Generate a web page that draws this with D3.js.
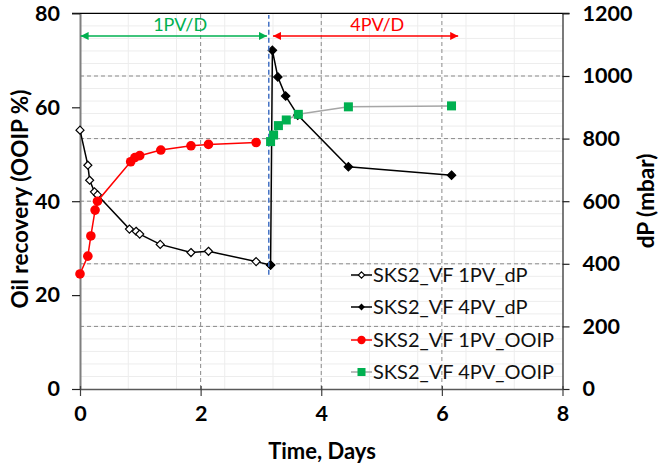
<!DOCTYPE html>
<html><head><meta charset="utf-8">
<script src="https://cdn.jsdelivr.net/npm/d3@7"></script>
<style>
body{margin:0;background:#fff}
svg{display:block}
text{font-family:Lato,"Open Sans",sans-serif}
</style>
</head><body>
<svg id="chart" width="658" height="465"></svg>
<script>
// ---------- DATA ----------
const xTicks = [0, 2, 4, 6, 8];
const yLeftTicks = [0, 20, 40, 60, 80];
const yRightTicks = [0, 200, 400, 600, 800, 1000, 1200];

const dp1PV_time = [0, 0.13, 0.16, 0.24, 0.29, 0.82, 0.93, 0.99, 1.33, 1.84, 2.13, 2.92, 3.16];
const dp1PV_val  = [827, 715, 667, 630, 620, 511, 504, 495, 462, 436, 440, 407, 396];

const dp4PV_time = [3.16, 3.19, 3.28, 3.41, 3.61, 4.45, 6.16];
const dp4PV_val  = [396, 1082, 997, 936, 875, 710, 683];

const ooip1PV_time = [0, 0.13, 0.18, 0.25, 0.29, 0.84, 0.91, 0.99, 1.34, 1.84, 2.13, 2.92];
const ooip1PV_val  = [24.5, 28.3, 32.6, 38.1, 40.0, 48.4, 49.3, 49.7, 50.9, 51.8, 52.1, 52.5];

const ooip4PV_time = [3.16, 3.21, 3.29, 3.42, 3.62, 4.45, 6.16];
const ooip4PV_val  = [52.7, 54.1, 56.1, 57.3, 58.5, 60.1, 60.3];

const seriesNames = ["SKS2_VF 1PV_dP", "SKS2_VF 4PV_dP", "SKS2_VF 1PV_OOIP", "SKS2_VF 4PV_OOIP"];

// annotations (x in days, y in mbar on right axis)
const phaseBoundary = 3.13;
const phaseBoundaryRange = [365, 1195];
const phaseLabels = ["1PV/D", "4PV/D"];
const phaseArrowStart = [0.01, 3.20];
const phaseArrowEnd = [3.10, 6.27];
const phaseLabelX = [1.66, 4.93];
const phaseArrowY = 1128;
const phaseLabelY = 1163;

// ---------- CHART ----------
const svg = d3.select("#chart");
const x = d3.scaleLinear().domain([0, 8]).range([80, 562.5]);
const yL = d3.scaleLinear().domain([0, 80]).range([389, 13.4]);
const yR = d3.scaleLinear().domain([0, 1200]).range([389, 13.4]);

const GREEN = "#00B050", RED = "#FF0000", GRAY = "#A6A6A6";

// minor gridlines
const g = svg.append("g");
g.selectAll("line.mh").data(d3.range(40, 1200, 40)).join("line")
  .attr("x1", x(0)).attr("x2", x(8)).attr("y1", d => yR(d)).attr("y2", d => yR(d))
  .attr("stroke", "#ededed").attr("stroke-width", 1);
g.selectAll("line.mv").data(d3.range(1, 10).map(i => i * 0.8)).join("line")
  .attr("y1", yR(0)).attr("y2", yR(1200)).attr("x1", d => x(d)).attr("x2", d => x(d))
  .attr("stroke", "#ededed").attr("stroke-width", 1);
// major dashed gridlines
g.selectAll("line.Mh").data([200, 400, 600, 800, 1000]).join("line")
  .attr("x1", x(0)).attr("x2", x(8)).attr("y1", d => yR(d)).attr("y2", d => yR(d))
  .attr("stroke", "#8a8a8a").attr("stroke-width", 1).attr("stroke-dasharray", "4,3");
g.append("g").selectAll("line").data([2, 4, 6]).join("line")
  .attr("y1", yR(0)).attr("y2", yR(1200)).attr("x1", d => x(d)).attr("x2", d => x(d))
  .attr("stroke", "#8a8a8a").attr("stroke-width", 1).attr("stroke-dasharray", "4,3");

// top line
svg.append("line").attr("x1", x(0) - 8).attr("x2", x(8) + 7)
  .attr("y1", yR(1200)).attr("y2", yR(1200)).attr("stroke", "#000").attr("stroke-width", 1.2);

// axes
const axL = svg.append("g").attr("transform", `translate(${x(0)},0)`)
  .call(d3.axisLeft(yL).tickValues(yLeftTicks).tickFormat(d3.format("d")).tickSize(8).tickPadding(12).tickSizeOuter(0));
axL.select(".domain").attr("stroke", "#7f7f7f").attr("stroke-width", 2);
axL.selectAll(".tick line").attr("stroke", "#222").attr("stroke-width", 1.2);

const axR = svg.append("g").attr("transform", `translate(${x(8)},0)`)
  .call(d3.axisRight(yR).tickValues(yRightTicks).tickFormat(d3.format("d")).tickSize(7).tickPadding(13).tickSizeOuter(0));
axR.select(".domain").attr("stroke", "#222").attr("stroke-width", 1.2);
axR.selectAll(".tick line").attr("stroke", "#222").attr("stroke-width", 1.2);

const axB = svg.append("g").attr("transform", `translate(0,${yL(0)})`)
  .call(d3.axisBottom(x).tickValues(xTicks).tickFormat(d3.format("d")).tickSizeOuter(0));
axB.select(".domain").attr("stroke", "#595959").attr("stroke-width", 1.5);
axB.selectAll(".tick line").attr("y1", -3).attr("y2", 7).attr("stroke", "#404040").attr("stroke-width", 1.2);
axB.selectAll(".tick text").attr("y", 31.5).attr("dy", 0);

[axL, axR, axB].forEach(a => a.selectAll(".tick text")
  .attr("font-family", "Lato, 'Open Sans', sans-serif")
  .attr("font-size", 21.5).attr("font-weight", "bold").attr("fill", "#000"));

// axis titles
svg.append("text").attr("transform", "translate(28,199) rotate(-90)")
  .attr("text-anchor", "middle").attr("font-size", 22.5).attr("font-weight", "bold")
  .text("Oil recovery (OOIP %)");
svg.append("text").attr("transform", "translate(654,201) rotate(-90)")
  .attr("text-anchor", "middle").attr("font-size", 22.5).attr("font-weight", "bold")
  .text("dP (mbar)");
svg.append("text").attr("x", 322).attr("y", 459)
  .attr("text-anchor", "middle").attr("font-size", 22).attr("font-weight", "bold")
  .text("Time, Days");

// phase annotations
const defs = svg.append("defs");
[["g", GREEN], ["r", RED]].forEach(([id, col]) => {
  defs.append("marker").attr("id", "ae" + id).attr("viewBox", "0 0 10 10")
    .attr("refX", 10).attr("refY", 5).attr("markerWidth", 9).attr("markerHeight", 8)
    .attr("markerUnits", "userSpaceOnUse").attr("orient", "auto")
    .append("path").attr("d", "M0,0 L10,5 L0,10 Z").attr("fill", col);
  defs.append("marker").attr("id", "as" + id).attr("viewBox", "0 0 10 10")
    .attr("refX", 0).attr("refY", 5).attr("markerWidth", 9).attr("markerHeight", 8)
    .attr("markerUnits", "userSpaceOnUse").attr("orient", "auto")
    .append("path").attr("d", "M10,0 L0,5 L10,10 Z").attr("fill", col);
});
const phaseCols = [GREEN, RED], phaseIds = ["g", "r"];
phaseLabels.forEach((lab, i) => {
  svg.append("line").attr("x1", x(phaseArrowStart[i])).attr("x2", x(phaseArrowEnd[i]))
    .attr("y1", yR(phaseArrowY)).attr("y2", yR(phaseArrowY))
    .attr("stroke", phaseCols[i]).attr("stroke-width", 1.5)
    .attr("marker-start", `url(#as${phaseIds[i]})`).attr("marker-end", `url(#ae${phaseIds[i]})`);
  svg.append("text").attr("x", x(phaseLabelX[i])).attr("y", yR(phaseLabelY)).attr("dy", "0.35em")
    .attr("text-anchor", "middle").attr("font-size", 18).attr("fill", phaseCols[i]).text(lab);
});

// series
const zip = (t, v) => t.map((d, i) => [d, v[i]]);
const s1 = zip(dp1PV_time, dp1PV_val), s2 = zip(dp4PV_time, dp4PV_val);
const s3 = zip(ooip1PV_time, ooip1PV_val), s4 = zip(ooip4PV_time, ooip4PV_val);
const lineR = d3.line().x(d => x(d[0])).y(d => yR(d[1]));
const lineL = d3.line().x(d => x(d[0])).y(d => yL(d[1]));

const diamond = (cx, cy, r) => `M${cx},${cy - r}L${cx + r},${cy}L${cx},${cy + r}L${cx - r},${cy}Z`;

function drawDiamonds(sel, pts, fill, r) {
  sel.selectAll(null).data(pts).join("path")
    .attr("d", d => diamond(x(d[0]), yR(d[1]), r))
    .attr("fill", fill).attr("stroke", "#000").attr("stroke-width", 1.2);
}

svg.append("path").attr("d", lineR(s1)).attr("fill", "none").attr("stroke", "#000").attr("stroke-width", 1.5);
drawDiamonds(svg.append("g"), s1, "#fff", 4);
svg.append("path").attr("d", lineR(s2)).attr("fill", "none").attr("stroke", "#000").attr("stroke-width", 1.5);
drawDiamonds(svg.append("g"), s2, "#000", 4.2);

// phase boundary (blue dashed)
svg.append("line").attr("x1", x(phaseBoundary)).attr("x2", x(phaseBoundary))
  .attr("y1", yR(phaseBoundaryRange[0])).attr("y2", yR(phaseBoundaryRange[1]))
  .attr("stroke", "#4472C4").attr("stroke-width", 1.5).attr("stroke-dasharray", "5,3");

svg.append("path").attr("d", lineL(s3)).attr("fill", "none").attr("stroke", RED).attr("stroke-width", 1.5);
svg.append("g").selectAll("circle").data(s3).join("circle")
  .attr("cx", d => x(d[0])).attr("cy", d => yL(d[1])).attr("r", 4.8).attr("fill", RED);
svg.append("path").attr("d", lineL(s4)).attr("fill", "none").attr("stroke", GRAY).attr("stroke-width", 1.5);
svg.append("g").selectAll("rect").data(s4).join("rect")
  .attr("x", d => x(d[0]) - 4.5).attr("y", d => yL(d[1]) - 4.5).attr("width", 9).attr("height", 9).attr("fill", GREEN);

// legend
const legY = [275, 307, 340, 372];
const legLineCol = ["#000", "#000", RED, GRAY];
const lg = svg.append("g");
seriesNames.forEach((name, i) => {
  const yy = legY[i];
  lg.append("line").attr("x1", 351).attr("x2", 372).attr("y1", yy).attr("y2", yy)
    .attr("stroke", legLineCol[i]).attr("stroke-width", 1.5);
  if (i === 0) lg.append("path").attr("d", diamond(361.5, yy, 3.2)).attr("fill", "#fff").attr("stroke", "#000").attr("stroke-width", 1.1);
  if (i === 1) lg.append("path").attr("d", diamond(361.5, yy, 3.4)).attr("fill", "#000");
  if (i === 2) lg.append("circle").attr("cx", 361.5).attr("cy", yy).attr("r", 4.2).attr("fill", RED);
  if (i === 3) lg.append("rect").attr("x", 357.5).attr("y", yy - 4).attr("width", 8).attr("height", 8).attr("fill", GREEN);
  lg.append("text").attr("x", 373).attr("y", yy).attr("dy", "0.36em")
    .attr("font-size", 20).attr("fill", "#111").text(name);
});
</script>
</body></html>
